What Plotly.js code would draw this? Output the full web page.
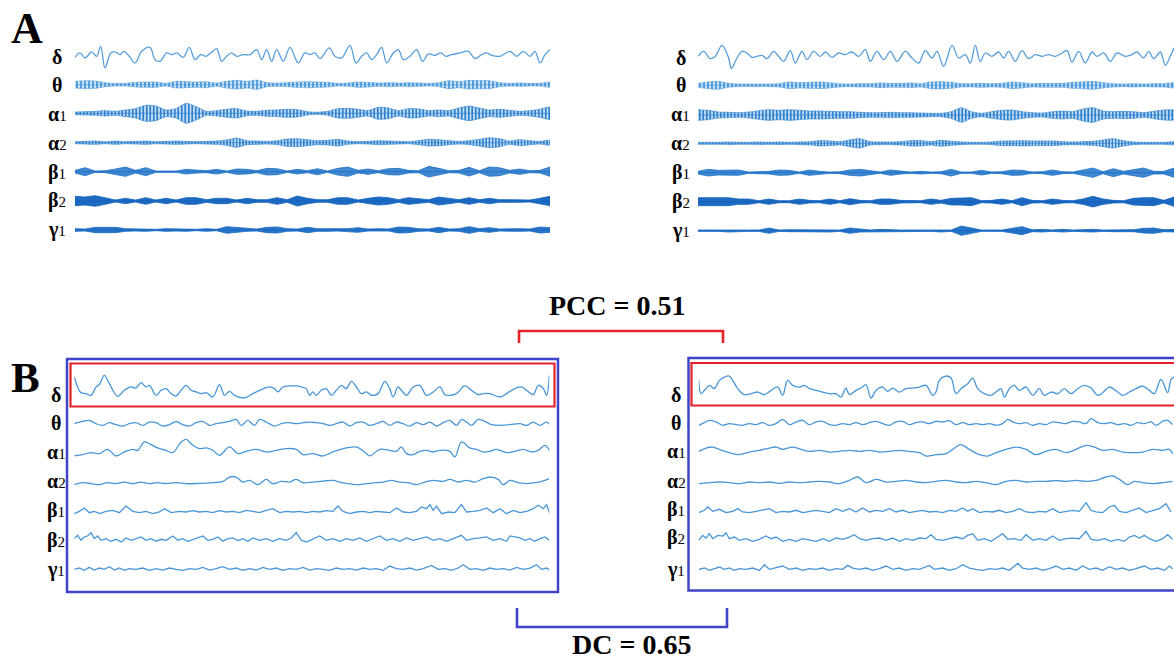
<!DOCTYPE html>
<html>
<head>
<meta charset="utf-8">
<script src="https://cdn.plot.ly/plotly-3.0.1.min.js"></script>
<style>html,body{margin:0;padding:0;background:#fff;}#chart{width:1174px;height:660px;}</style>
</head>
<body>
<div id="chart"></div>
<script>
// ---------------- DATA ----------------
const BAND_LABELS = ['δ','θ','α1','α2','β1','β2','γ1'];
const PCC_TEXT = 'PCC = 0.51';
const DC_TEXT = 'DC = 0.65';

// Panel A, delta band (time, amplitude)
const AL_delta_t = [0,15,30,50,65,77,90,107,120,135,147,163,180,200,225,240,255,275,290,305,325,343,360,377,393,407,425,440,455,470,485,505,525,545,560,575,590,605,625,645,670,690,705,720,735,763,780,800,825,843,860,875,890,905,920,935,955,970,985,1005,1025,1043,1060,1080,1097,1113,1130,1155,1180,1200,1220,1235,1250,1275,1305,1325,1345,1365,1380,1395,1410,1425];
const AL_delta_v = [-3,10,-5,13,0,30,-35,10,13,5,15,0,-20,15,27,-10,-15,10,5,10,-3,27,-10,5,0,10,23,-15,0,10,0,5,5,20,-10,20,-15,20,-15,27,-20,10,5,10,-7,25,0,-5,33,-20,0,10,-10,5,27,-20,10,20,-10,0,20,-15,7,3,10,0,5,10,15,-7,5,10,3,0,15,0,15,0,15,-20,5,20];
const AR_delta_t = [0,17,37,52,72,92,100,117,132,147,162,177,192,207,227,242,257,277,292,312,327,347,367,382,402,422,442,462,482,502,517,537,557,577,597,622,642,662,682,702,717,737,762,782,802,817,832,847,862,882,902,917,932,952,972,992,1012,1032,1052,1072,1092,1107,1122,1142,1162,1182,1197,1217,1237,1257,1282,1302,1317,1337,1352,1367,1387,1402,1417,1428];
const AR_delta_v = [2,17,-5,2,35,-3,-35,-3,17,12,-1,2,5,-5,17,2,-13,19,-18,17,-8,17,2,15,-1,12,7,15,2,22,-13,17,-8,17,-13,17,-3,-18,19,-3,17,-28,35,-3,7,-18,35,-13,12,2,15,-3,17,-13,19,-5,7,2,7,2,12,19,-15,17,-18,15,2,12,-13,12,2,7,15,-3,17,-5,15,-25,2,27];

// Panel A, oscillation envelopes (amplitude, evenly sampled)
const AL_theta_env = [10,12,11,6,4,4,7,8,8,4,10,9,8,9,5,10,13,10,14,6,5,6,8,9,8,7,4,5,8,7,5,6,5,6,5,4,6,12,9,13,12,12,6,4,5,4,4,7];
const AL_a1_env = [4,5,6,8,6,10,14,24,22,10,14,30,20,6,8,12,14,7,6,9,10,12,11,5,3,6,14,15,12,8,18,16,8,14,13,8,10,8,16,22,16,10,12,9,6,8,12,18];
const AL_a2_env = [3,4,5,3,5,3,4,5,3,4,5,4,3,4,5,8,14,6,5,4,6,11,12,9,6,7,10,5,3,4,6,5,4,3,6,10,9,6,4,6,10,15,12,5,9,6,4,7];
const AL_b1_env = [4,12,2,3,8,14,4,12,2,3,2,7,4,3,7,2,8,7,3,10,9,2,7,3,9,2,10,14,4,8,3,9,10,4,3,16,10,3,4,13,3,14,12,4,8,3,4,14];
const AL_b2_env = [14,12,16,10,3,8,3,10,3,8,3,10,10,4,8,8,3,8,4,4,10,4,15,8,4,4,10,10,3,8,12,10,4,10,8,4,12,8,4,10,4,8,4,4,4,3,8,14];
const AL_g1_env = [4,3,8,7,8,4,3,4,2,4,3,4,2,4,2,10,8,4,3,8,9,4,3,8,4,4,3,4,7,3,4,3,9,8,4,3,8,3,4,10,4,7,3,4,4,3,9,7];
const AR_theta_env = [6,10,12,6,4,4,4,4,5,10,8,9,10,8,5,4,5,5,7,6,6,7,5,10,11,9,5,5,6,5,6,10,8,5,6,6,6,9,10,12,8,5,4,5,4,5,5,7];
const AR_a1_env = [16,14,9,8,7,9,13,16,14,16,14,12,12,11,10,10,8,7,7,8,7,7,6,5,5,10,22,10,5,10,14,15,10,7,6,10,12,10,18,22,12,10,11,10,7,11,15,14];
const AR_a2_env = [3,3,3,4,3,3,4,3,4,3,4,5,8,7,5,10,14,5,4,4,5,8,8,5,9,6,4,3,3,4,7,7,8,7,7,7,5,4,5,6,10,14,8,4,3,3,3,4];
const AR_b1_env = [4,10,7,8,8,2,3,4,8,7,2,8,4,2,3,8,10,7,2,8,4,2,4,2,3,10,2,2,7,2,3,8,7,2,3,8,3,2,8,14,3,12,4,8,14,4,4,14];
const AR_b2_env = [12,12,11,12,8,8,3,8,3,3,8,4,3,8,3,9,4,3,8,8,4,3,3,8,4,10,10,12,3,4,8,3,12,4,3,8,4,3,8,16,8,4,3,10,12,12,4,14];
const AR_g1_env = [2,2,2,4,4,2,2,8,2,3,3,4,3,4,2,8,4,2,4,2,2,2,2,2,4,2,14,8,2,2,2,7,12,3,4,2,4,2,3,4,2,3,4,3,7,8,3,4];

// Panel B, left recording
const BL_delta_t = [0,10,20,35,50,65,75,90,105,130,150,170,185,200,215,225,245,260,275,290,305,320,335,350,365,380,395,415,435,450,465,480,510,535,555,585,600,610,625,645,665,680,695,705,715,725,740,755,770,785,800,815,830,845,860,875,890,910,930,945,955,970,980,995,1015,1035,1055,1075,1095,1110,1125,1145,1170,1190,1210,1225,1245,1275,1295,1315,1340,1355,1375,1390,1405,1415,1423];
const BL_delta_v = [40,10,-7,-10,-15,10,17,45,20,-18,0,10,7,23,10,15,-15,0,5,-10,-17,0,15,0,-5,-10,-7,-20,17,-15,-3,-15,-23,-10,0,10,5,-5,10,13,13,10,5,-15,-5,-15,0,5,-15,0,15,5,27,10,-10,-5,-15,-10,27,5,-20,10,0,-15,10,15,-15,-5,10,-13,-15,-10,13,0,-13,-10,-10,-20,-10,3,10,0,-13,15,5,-15,45];
const BL_theta_t = [0,25,45,65,85,105,125,145,165,185,205,225,245,265,285,305,325,345,365,385,405,425,445,465,485,500,520,540,555,575,600,620,640,665,685,705,725,745,765,785,805,825,845,865,885,905,925,945,965,985,1005,1025,1045,1065,1085,1105,1125,1145,1160,1175,1190,1210,1230,1250,1275,1305,1335,1355,1375,1395,1415,1425];
const BL_theta_v = [0,7,10,0,-5,3,-3,-7,0,3,-5,5,3,-7,-3,7,-3,-7,3,7,-5,0,3,7,13,-5,10,-5,13,5,-7,0,3,0,3,5,3,0,-5,0,5,-7,3,5,-5,0,7,-5,5,0,-7,3,-3,5,-7,3,10,-5,13,5,-5,13,7,-3,-5,-3,0,-5,5,-5,5,-3];
const BL_a1_t = [0,25,50,75,100,125,150,175,190,210,230,250,275,295,320,335,355,375,395,415,435,465,490,515,545,575,605,635,665,685,715,745,775,815,845,870,885,915,945,965,980,995,1015,1035,1055,1075,1095,1125,1140,1160,1185,1205,1225,1245,1265,1295,1320,1345,1370,1390,1410,1425];
const BL_a1_v = [-17,-13,-7,-10,3,-17,-5,3,0,25,17,7,0,-7,25,33,15,5,7,0,-15,10,-10,-3,3,-5,0,5,3,-13,-10,-17,-5,7,10,-5,-17,3,0,-3,10,-10,-13,-3,0,-5,0,-3,-20,25,7,3,-5,-3,3,-7,-3,3,-5,0,15,-3];
const BL_a2_t = [0,25,50,75,100,125,150,175,200,225,250,275,305,335,375,415,445,465,485,505,525,550,575,595,620,645,665,685,715,745,775,795,815,845,875,905,925,950,975,1000,1025,1050,1075,1105,1125,1150,1175,1200,1225,1250,1270,1285,1305,1330,1355,1380,1400,1423];
const BL_a2_v = [-6,0,-3,-6,0,-3,2,-3,2,-3,0,-3,0,-3,-2,0,4,17,17,2,7,-6,10,-3,4,2,10,0,2,5,7,2,-2,-6,-3,0,2,7,2,0,-6,2,7,4,10,2,7,2,12,17,10,-6,7,0,-3,0,4,12];
const BL_b1_t = [0,15,30,45,60,75,95,115,135,155,175,195,215,235,255,270,290,315,335,355,375,395,415,435,455,475,495,515,535,555,575,595,615,635,655,675,695,715,735,755,775,790,805,825,845,865,885,905,925,945,965,985,1005,1025,1040,1055,1065,1075,1085,1100,1120,1140,1160,1175,1195,1215,1235,1255,1275,1295,1315,1335,1355,1375,1390,1405,1415,1425];
const BL_b1_v = [-5,2,12,-2,2,-5,2,5,-2,18,2,-2,2,-5,0,10,-2,2,0,4,0,2,-2,4,0,2,-2,5,2,-2,5,10,-2,2,0,2,-2,2,0,4,2,18,2,-5,0,2,-2,2,0,-2,12,0,-2,2,15,10,22,5,18,-5,0,-2,22,0,2,5,12,-2,10,-5,5,-2,2,10,20,10,22,-5];
const BL_b2_t = [0,10,20,30,40,50,60,70,80,95,110,125,140,155,170,185,200,215,230,245,260,275,295,310,325,340,355,370,385,400,415,430,445,460,475,490,505,520,535,555,575,595,615,635,650,665,680,695,715,735,755,775,795,815,835,855,875,895,915,935,955,975,995,1015,1035,1055,1075,1095,1115,1135,1160,1175,1195,1215,1235,1255,1275,1295,1305,1320,1335,1350,1365,1380,1395,1410,1423];
const BL_b2_v = [2,12,-3,7,10,20,2,10,-3,2,-6,0,-8,4,-3,2,7,-3,2,-6,0,-3,10,-3,2,-6,0,4,10,-3,0,7,-6,2,4,-4,2,-6,4,-3,2,-6,2,-3,4,20,-3,-8,0,10,-3,2,-6,2,-3,4,-6,2,10,-3,2,-6,4,-3,2,7,-3,2,-6,2,12,-3,2,4,7,-3,2,-6,10,7,4,-3,2,-6,2,7,-3];
const BL_g1_t = [0,15,30,45,60,75,90,105,120,135,150,165,185,205,225,245,265,285,305,325,345,365,385,405,425,445,465,485,505,525,545,565,585,605,625,645,665,685,705,725,745,765,785,805,825,845,865,885,905,925,945,965,985,1005,1025,1045,1070,1090,1110,1130,1150,1165,1185,1205,1225,1245,1265,1285,1305,1325,1345,1365,1385,1400,1415,1425];
const BL_g1_v = [-2,2,-5,4,-4,2,-2,6,-4,2,-5,0,-2,2,-5,0,-4,2,-2,-5,0,-2,4,-4,0,6,-2,2,-5,0,-4,4,-2,2,-5,0,-2,4,-4,0,-2,-5,2,-2,0,-4,2,-2,0,-5,8,0,-2,2,-4,0,10,-2,0,-5,2,12,-2,0,-5,2,-2,0,-4,4,-2,2,12,-2,2,-5];

// Panel B, right recording
const BR_delta_t = [0,7,17,32,47,62,77,92,102,117,137,157,177,197,217,237,252,267,282,302,317,332,352,372,392,412,427,442,452,472,487,502,517,532,552,567,582,602,622,642,662,682,702,712,722,742,757,772,787,807,822,837,857,877,892,907,917,932,947,962,982,1002,1022,1037,1057,1077,1097,1117,1137,1157,1177,1197,1212,1232,1257,1272,1292,1312,1332,1352,1367,1387,1407,1417,1426];
const BR_delta_v = [25,-15,-5,10,0,25,35,38,25,0,-18,-15,-10,-18,-5,5,-20,25,10,5,10,0,-5,-10,-15,-15,-25,2,-18,-5,2,12,-28,-5,5,-8,2,-10,0,2,5,10,-20,-10,25,38,32,-15,0,15,32,0,-15,-20,-10,0,-25,0,10,-5,5,-20,0,-20,-10,-15,0,-15,0,10,2,-20,-12,5,-10,-20,-10,0,8,-5,-15,28,-12,28,35];
const BR_theta_t = [0,17,32,52,72,92,112,132,152,172,192,212,232,252,272,292,312,332,352,372,392,412,432,452,472,492,512,532,552,572,592,612,632,652,672,692,712,732,752,772,792,812,832,852,872,892,912,927,942,962,982,1002,1022,1042,1062,1082,1102,1122,1142,1162,1177,1197,1217,1237,1257,1277,1297,1317,1337,1357,1372,1392,1407,1422];
const BR_theta_v = [-6,2,9,4,-6,-1,-4,-6,-1,-4,2,-6,-1,12,-4,4,9,-4,4,6,-4,-6,-1,-4,2,-4,2,6,-1,-6,4,6,-4,2,4,-1,6,4,8,-4,2,-4,-1,-4,-1,-6,-1,12,4,-1,2,-6,-1,-4,4,2,-1,6,4,-1,14,2,-1,2,-4,-1,-6,2,-1,4,-6,6,9,-4];
const BR_a1_t = [0,22,42,62,92,122,152,182,212,232,252,282,307,332,362,392,422,452,482,512,542,572,602,632,662,682,712,742,762,787,812,842,867,892,922,952,982,1012,1042,1072,1102,1132,1162,1187,1212,1242,1272,1302,1332,1362,1392,1412,1422];
const BR_a1_v = [-2,8,11,4,-6,-12,-4,1,8,11,4,11,4,-2,1,-4,-2,1,-2,1,-4,-2,1,-2,-6,-16,-12,-9,4,18,4,-12,-16,-6,4,11,4,-12,-2,4,-6,4,16,11,1,4,-4,-6,-4,4,1,4,-9];
const BR_a2_t = [0,32,62,92,122,152,182,212,242,272,302,332,362,392,422,452,477,502,532,562,592,622,652,682,712,742,772,802,832,862,892,922,952,982,1012,1042,1072,1102,1132,1162,1192,1222,1242,1262,1287,1307,1332,1362,1392,1422];
const BR_a2_v = [-5,-2,0,-2,-5,0,-2,0,-4,0,-2,0,2,0,-5,5,15,-2,8,0,2,5,0,-2,2,5,0,-2,2,-2,-8,2,5,0,2,2,4,2,5,2,5,15,18,8,-8,2,-2,-5,-2,2];
const BR_b1_t = [0,17,27,42,62,82,102,117,132,152,172,192,212,232,252,272,292,312,332,352,372,392,412,432,452,472,492,512,532,552,572,592,612,632,652,672,692,712,732,752,772,792,807,822,842,862,882,902,922,942,962,982,1002,1022,1042,1062,1082,1102,1122,1142,1162,1177,1192,1212,1232,1247,1262,1282,1302,1322,1342,1362,1382,1402,1417];
const BR_b1_v = [-4,3,13,0,6,-4,0,8,-2,-4,0,3,8,-4,0,-2,3,-4,0,3,0,-4,8,0,8,-2,10,-2,3,0,8,-2,3,-4,0,3,-2,0,-4,3,0,10,0,8,-4,0,-2,3,-4,0,8,-2,-4,0,-2,8,-4,0,3,0,26,3,-2,-4,13,18,0,-4,3,10,-4,3,8,23,-2];
const BR_b2_t = [0,12,22,32,42,57,72,82,92,107,122,142,162,182,202,217,232,252,272,292,312,332,352,372,392,412,432,452,467,482,502,522,542,562,582,602,622,642,662,682,697,712,732,752,772,792,807,822,837,857,877,897,912,927,947,967,982,1002,1022,1042,1062,1082,1102,1122,1142,1162,1177,1197,1217,1237,1257,1277,1292,1307,1322,1337,1352,1372,1392,1407,1422];
const BR_b2_v = [-5,10,2,15,0,10,8,18,0,5,-5,0,-8,-2,8,0,5,-8,-2,-8,0,-5,-8,0,-8,2,-2,5,12,0,-5,0,2,-5,2,-8,0,-5,2,0,12,-2,-5,0,5,0,10,15,-5,0,-8,5,15,-2,0,-5,12,-5,0,-5,8,-5,0,2,0,22,-2,-5,0,-8,-2,-8,5,10,2,10,0,-8,0,12,-2];
const BR_g1_t = [0,17,32,47,62,77,92,107,122,142,162,182,197,212,232,252,272,292,312,332,352,372,392,412,432,447,462,482,502,522,542,562,582,602,622,642,662,692,707,732,752,772,792,812,832,852,872,892,912,932,957,972,992,1012,1032,1052,1072,1092,1112,1132,1152,1172,1192,1212,1232,1252,1272,1292,1312,1337,1357,1377,1397,1412,1422];
const BR_g1_v = [-2,2,-5,0,5,-2,2,-5,0,-2,2,-5,12,-2,2,8,-2,2,-5,0,-2,2,-5,0,-2,10,2,-2,2,-5,0,8,-2,2,-5,0,-2,10,-2,2,-5,0,12,2,-2,-5,0,-2,2,-5,16,2,-2,2,-5,0,8,-2,2,-5,8,-2,2,-5,6,-2,2,-5,0,8,-2,2,-5,8,0];

// ---------------- LAYOUT CONSTANTS ----------------
const W = 1174, H = 660;
const px = x => x / W;
const py = y => 1 - y / H;
const HALF = 16;          // half height of each row band (px)
const UNITS_PER_PX = 3;   // amplitude units per pixel

const COLS = [
  {x0: 75,    x1: 550,  span: 1425, rows: [56.3,84.7,113.3,142.7,171.7,201,230],
   labelX: 57, labelY: [57,85,113.5,143,172,200.5,229.5]},
  {x0: 698,   x1: 1174, span: 1428, rows: [57,85.3,115,143.3,172.7,201.7,230.7],
   labelX: 681, labelY: [58,85,113.5,143,172.5,201.5,230]},
  {x0: 74.3,  x1: 549.3, span: 1423, rows: [390.3,423.7,450.3,482.7,512,539.3,568.7],
   labelX: 56, labelY: [395,423,451.5,481.5,510.5,540,569]},
  {x0: 698.7, x1: 1174, span: 1426, rows: [388.7,423.3,450.7,482,511.3,538.7,568.7],
   labelX: 676, labelY: [395,423,450.5,481,509,537.5,569]}
];

const DELTA_A = 'rgb(86,158,220)';
const LINE_B = 'rgb(72,150,216)';
const ENV_STYLE = [
  null,
  {fill: 'rgba(110,175,228,0.35)', line: 'rgba(78,154,220,0.7)', shape: 'spline', pat: {shape: '|', size: 4, solidity: 0.45, fgcolor: 'rgb(70,150,218)'}},
  {fill: 'rgba(90,160,222,0.35)', line: 'rgba(52,134,210,0.8)', shape: 'spline', pat: {shape: '|', size: 3.5, solidity: 0.5, fgcolor: 'rgb(45,128,206)'}},
  {fill: 'rgba(90,160,222,0.35)', line: 'rgba(52,134,210,0.8)', shape: 'spline', pat: {shape: '|', size: 3.2, solidity: 0.5, fgcolor: 'rgb(45,128,206)'}},
  {fill: 'rgba(30,114,200,0.85)', line: 'rgb(30,114,200)', shape: 'linear'},
  {fill: 'rgba(18,98,190,0.95)', line: 'rgb(18,98,190)', shape: 'linear'},
  {fill: 'rgba(22,104,194,0.92)', line: 'rgb(22,104,194)', shape: 'linear'}
];

// ---------------- BUILD ----------------
const layout = {
  width: W, height: H,
  margin: {l: 0, r: 0, t: 0, b: 0, pad: 0},
  paper_bgcolor: '#ffffff', plot_bgcolor: 'rgba(0,0,0,0)',
  showlegend: false,
  shapes: [], annotations: []
};
const traces = [];
let yCount = 0;

COLS.forEach((col, ci) => {
  const xn = ci === 0 ? '' : String(ci + 1);
  layout['xaxis' + xn] = {domain: [px(col.x0), Math.min(1, px(col.x1))], range: [0, col.span],
    visible: false, fixedrange: true, showgrid: false, zeroline: false};
  col.rows.forEach((c, ri) => {
    yCount++;
    const yn = yCount === 1 ? '' : String(yCount);
    layout['yaxis' + yn] = {domain: [py(c + HALF), py(c - HALF)],
      range: [-HALF * UNITS_PER_PX, HALF * UNITS_PER_PX], anchor: 'x' + xn,
      visible: false, fixedrange: true, showgrid: false, zeroline: false};
    col['y' + ri] = 'y' + yn;
  });
  col.xref = 'x' + xn;
});

function addLine(col, ri, t, v, color, width, shape) {
  traces.push({type: 'scatter', mode: 'lines', x: t, y: v, xaxis: col.xref, yaxis: col['y' + ri],
    line: {color: color, width: width, shape: shape, smoothing: 1.0}, hoverinfo: 'skip'});
}
function addEnv(col, ri, env) {
  const st = ENV_STYLE[ri];
  const step = col.span / (env.length - 1);
  const xs = env.map((_, k) => k * step);
  const upper = env.slice();
  const lower = env.map(e => -e).reverse();
  const tr = {type: 'scatter', mode: 'lines', x: xs.concat(xs.slice().reverse()), y: upper.concat(lower),
    xaxis: col.xref, yaxis: col['y' + ri], fill: 'toself', fillcolor: st.fill,
    line: {color: st.line, width: 0.8, shape: st.shape, smoothing: 0.6}, hoverinfo: 'skip'};
  if (st.pat) tr.fillpattern = {shape: st.pat.shape, size: st.pat.size, solidity: st.pat.solidity,
    fgcolor: st.pat.fgcolor, bgcolor: st.fill};
  traces.push(tr);
  // thin centre trace of the oscillation
  traces.push({type: 'scatter', mode: 'lines', x: [0, col.span], y: [0, 0], xaxis: col.xref, yaxis: col['y' + ri],
    line: {color: st.line, width: 0.9}, hoverinfo: 'skip'});
}

// Panel A
addLine(COLS[0], 0, AL_delta_t, AL_delta_v, DELTA_A, 1.3, 'spline');
[AL_theta_env, AL_a1_env, AL_a2_env, AL_b1_env, AL_b2_env, AL_g1_env].forEach((e, i) => addEnv(COLS[0], i + 1, e));
addLine(COLS[1], 0, AR_delta_t, AR_delta_v, DELTA_A, 1.3, 'spline');
[AR_theta_env, AR_a1_env, AR_a2_env, AR_b1_env, AR_b2_env, AR_g1_env].forEach((e, i) => addEnv(COLS[1], i + 1, e));

// Panel B
const BL = [[BL_delta_t, BL_delta_v], [BL_theta_t, BL_theta_v], [BL_a1_t, BL_a1_v], [BL_a2_t, BL_a2_v],
            [BL_b1_t, BL_b1_v], [BL_b2_t, BL_b2_v], [BL_g1_t, BL_g1_v]];
const BR = [[BR_delta_t, BR_delta_v], [BR_theta_t, BR_theta_v], [BR_a1_t, BR_a1_v], [BR_a2_t, BR_a2_v],
            [BR_b1_t, BR_b1_v], [BR_b2_t, BR_b2_v], [BR_g1_t, BR_g1_v]];
BL.forEach((d, i) => addLine(COLS[2], i, d[0], d[1], LINE_B, 1.3, i < 4 ? 'spline' : 'linear'));
BR.forEach((d, i) => addLine(COLS[3], i, d[0], d[1], LINE_B, 1.3, i < 4 ? 'spline' : 'linear'));

// Band labels
const SERIF = '"Liberation Serif", "Times New Roman", Times, serif';
function labelHtml(s) {
  if (s.length === 1) return '<b>' + s + '</b>';
  return '<b>' + s[0] + '</b><span style="font-size:15px">' + s.slice(1) + '</span>';
}
COLS.forEach(col => {
  BAND_LABELS.forEach((lab, i) => {
    layout.annotations.push({xref: 'paper', yref: 'paper', x: px(col.labelX), y: py(col.labelY[i]),
      xanchor: 'center', yanchor: 'middle', showarrow: false, text: labelHtml(lab),
      font: {family: SERIF, size: 20, color: '#000'}});
  });
});

// Panel letters and statistic captions
layout.annotations.push({xref: 'paper', yref: 'paper', x: px(27), y: py(28), xanchor: 'center', yanchor: 'middle',
  showarrow: false, text: '<b>A</b>', font: {family: SERIF, size: 44, color: '#000'}});
layout.annotations.push({xref: 'paper', yref: 'paper', x: px(25), y: py(377), xanchor: 'center', yanchor: 'middle',
  showarrow: false, text: '<b>B</b>', font: {family: SERIF, size: 43, color: '#000'}});
layout.annotations.push({xref: 'paper', yref: 'paper', x: px(617), y: py(305), xanchor: 'center', yanchor: 'middle',
  showarrow: false, text: '<b>' + PCC_TEXT + '</b>', font: {family: SERIF, size: 28, color: '#000'}});
layout.annotations.push({xref: 'paper', yref: 'paper', x: px(631), y: py(644), xanchor: 'center', yanchor: 'middle',
  showarrow: false, borderpad: 0, text: '<b>' + DC_TEXT + '</b>', font: {family: SERIF, size: 28, color: '#000'}});

// Frames and brackets
const BLUE = '#3f44c8', RED = '#e4222a';
function rect(x0, y0, x1, y1, color, w) {
  layout.shapes.push({type: 'rect', xref: 'paper', yref: 'paper', x0: px(x0), x1: px(x1), y0: py(y1), y1: py(y0),
    line: {color: color, width: w}, fillcolor: 'rgba(0,0,0,0)'});
}
function bracket(xa, xb, yTip, yBar, color, w) {
  layout.shapes.push({type: 'path', xref: 'paper', yref: 'paper',
    path: 'M' + px(xa) + ',' + py(yTip) + ' L' + px(xa) + ',' + py(yBar) + ' L' + px(xb) + ',' + py(yBar) + ' L' + px(xb) + ',' + py(yTip),
    line: {color: color, width: w}});
}
rect(67, 359, 558, 592, BLUE, 2.5);
rect(70.5, 363.5, 554.5, 406.5, RED, 2.2);
rect(688.5, 358, 1185, 590.5, BLUE, 2.5);
rect(691.5, 363, 1185, 405.5, RED, 2.2);
bracket(519, 723, 343, 331, RED, 2.6);
bracket(517, 727, 608, 627, BLUE, 2.6);

Plotly.newPlot('chart', traces, layout, {staticPlot: true, displayModeBar: false});
</script>
</body>
</html>
